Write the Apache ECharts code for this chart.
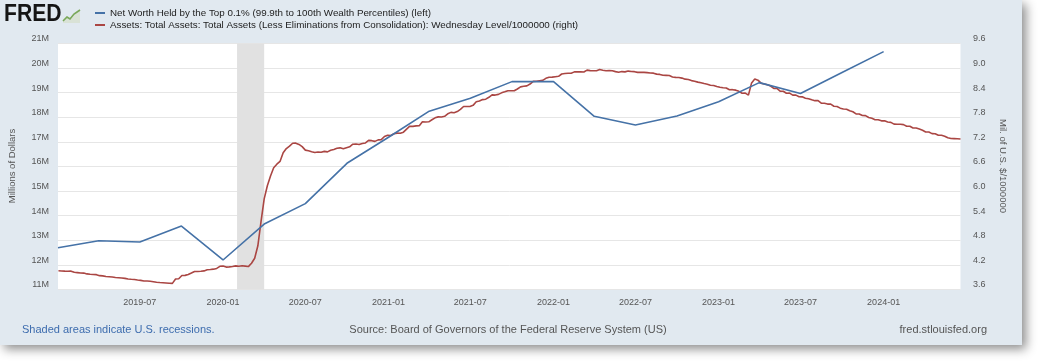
<!DOCTYPE html>
<html><head><meta charset="utf-8">
<script src="https://cdn.jsdelivr.net/npm/echarts@6/dist/echarts.min.js"></script>
<style>
html,body{margin:0;padding:0;background:#fff;width:1038px;height:361px;overflow:hidden}
#wrap{position:absolute;left:0;top:0;width:1022px;height:345px;background:#e1e9f0;box-shadow:4px 4px 10px rgba(0,0,0,0.45);}
#chart{width:1022px;height:345px}
</style></head><body><div id="wrap"><div id="chart"></div></div>
<script>
// ---- Data ----
const blueName = 'Net Worth Held by the Top 0.1% (99.9th to 100th Wealth Percentiles) (left)';
const redName = 'Assets: Total Assets: Total Assets (Less Eliminations from Consolidation): Wednesday Level/1000000 (right)';

const blueDates = ['2019-01-01','2019-04-01','2019-07-01','2019-10-01','2020-01-01','2020-04-01','2020-07-01','2020-10-01',
  '2021-01-01','2021-04-01','2021-07-01','2021-10-01','2022-01-01','2022-04-01','2022-07-01','2022-10-01',
  '2023-01-01','2023-04-01','2023-07-01','2023-10-01','2024-01-01'];
const blueValues = [12.70, 12.98, 12.93, 13.58, 12.20, 13.66, 14.49, 16.13,
  17.19, 18.25, 18.77, 19.45, 19.45, 18.04, 17.69, 18.05,
  18.63, 19.41, 18.97, 19.82, 20.67];

// weekly (Wednesday) values starting 2019-01-02
const redFirstWednesday = [2019, 0, 2];
const red2019 = [4.058,4.052,4.047,4.045,4.048, 4.020,4.012,4.002,4.000, 3.980,3.972,3.966,3.962,
  3.938,3.933,3.918,3.912, 3.905,3.892,3.888,3.880,3.872, 3.858,3.850,3.843,3.832,
  3.822,3.808,3.806,3.800,3.790, 3.778,3.770,3.766,3.760, 3.752,3.750,3.856,3.862,
  3.940,3.945,3.966,4.002,4.040, 4.040,4.046,4.054,4.080, 4.086,4.096,4.114,4.166];
const red2020 = [4.173,4.146,4.151,4.163,4.176, 4.168,4.179,4.171,4.159, 4.241,4.362,4.666,5.254,
  5.811,6.131,6.368,6.570,6.656, 6.723,6.934,7.037,7.097, 7.167,7.169,7.139,7.085,
  7.000,6.984,6.962,6.943,6.952, 6.949,6.969,6.957,6.996, 7.016,7.044,7.055,7.032,7.057,
  7.081,7.143,7.147,7.135, 7.163,7.175,7.237,7.230, 7.213,7.249,7.255,7.331,7.362];
const red2021 = [7.356,7.397,7.414,7.411, 7.438,7.513,7.583,7.578, 7.590,7.594,7.693,7.685,7.690,
  7.741,7.787,7.810,7.806, 7.824,7.886,7.920,7.912, 7.939,7.994,8.064,8.064,8.063,
  8.091,8.178,8.197,8.232, 8.242,8.288,8.346,8.342, 8.359,8.396,8.422,8.449,8.446,
  8.447,8.491,8.542,8.556, 8.567,8.611,8.676,8.679, 8.690,8.700,8.750,8.777,8.780];
const red2022 = [8.790,8.800,8.856,8.868, 8.874,8.876,8.908,8.907, 8.912,8.906,8.950,8.939,8.937,
  8.937,8.965,8.949,8.935, 8.938,8.937,8.914,8.900, 8.915,8.908,8.927,8.917,8.913,
  8.896,8.899,8.895,8.889, 8.879,8.877,8.853,8.846,8.826, 8.823,8.819,8.784,8.773,
  8.769,8.756,8.730,8.722, 8.695,8.681,8.658,8.642,8.623, 8.607,8.581,8.577,8.551];
const red2023 = [8.532,8.520,8.514,8.471, 8.474,8.462,8.433,8.386, 8.389,8.342,8.639,8.733,8.706,
  8.632,8.614,8.593,8.563, 8.503,8.503,8.436,8.436,8.386, 8.389,8.342,8.341,8.300,
  8.299,8.265,8.251,8.226, 8.206,8.207,8.146,8.144,8.122, 8.121,8.070,8.065,8.023,
  8.002,7.998,7.960,7.935, 7.884,7.880,7.844,7.842,7.795, 7.775,7.740,7.740,7.713];
const red2024 = [7.714,7.684,7.677,7.633,7.632, 7.629,7.622,7.583,7.581, 7.539,7.539,7.514,7.485,
  7.442,7.440,7.402,7.400, 7.362,7.361,7.338,7.300,7.284, 7.281,7.277,7.270];

const xTickLabels = ['2019-07','2020-01','2020-07','2021-01','2021-07','2022-01','2022-07','2023-01','2023-07','2024-01'];
const leftTickLabels = ['11M','12M','13M','14M','15M','16M','17M','18M','19M','20M','21M'];
const rightTickLabels = ['3.6','4.2','4.8','5.4','6.0','6.6','7.2','7.8','8.4','9.0','9.6'];
const recession = ['2020-02-01', '2020-04-01'];
const xRange = ['2019-01-01', '2024-06-19'];

// ---- Build ----
function ts(s){ const p = s.split('-').map(Number); return new Date(p[0], p[1]-1, p[2] || 1).getTime(); }
const redValues = [].concat(red2019, red2020, red2021, red2022, red2023, red2024);
const redData = redValues.map((v, i) => [new Date(redFirstWednesday[0], redFirstWednesday[1], redFirstWednesday[2] + 7*i).getTime(), v]);
const blueData = blueDates.map((d, i) => [ts(d), blueValues[i]]);
const tickTimes = xTickLabels.map(ts);

const FONT = '"Liberation Sans", Arial, sans-serif';
const chart = echarts.init(document.getElementById('chart'), null, {renderer: 'canvas'});
chart.setOption({
  animation: false,
  backgroundColor: '#e1e9f0',
  textStyle: {fontFamily: FONT},
  grid: {left: 58, right: 61.5, top: 43.5, bottom: 55.5, show: true, backgroundColor: '#ffffff', borderWidth: 0},
  legend: {
    orient: 'vertical', left: 95, top: 7.5, padding: 0, itemWidth: 10, itemHeight: 2, itemGap: 1,
    icon: 'rect', data: [blueName, redName],
    textStyle: {fontSize: 9.8, color: '#222', fontFamily: FONT, lineHeight: 11}
  },
  xAxis: {
    type: 'value', min: ts(xRange[0]), max: ts(xRange[1]),
    axisLine: {show: false}, axisTick: {show: false}, splitLine: {show: false},
    axisLabel: {
      customValues: tickTimes, fontSize: 9, color: '#555', margin: 8.5,
      formatter: function (v) { const i = tickTimes.indexOf(v); return i >= 0 ? xTickLabels[i] : ''; }
    }
  },
  yAxis: [
    {type: 'value', min: 11, max: 21, interval: 1, position: 'left',
     axisLine: {show: false}, axisTick: {show: false},
     splitLine: {lineStyle: {color: '#e6e6e6', width: 1}},
     axisLabel: {fontSize: 9, color: '#555', margin: 9, verticalAlign: 'bottom', lineHeight: 9,
       formatter: function (v) { return leftTickLabels[Math.round(v - 11)]; }}},
    {type: 'value', min: 3.6, max: 9.6, interval: 0.6, position: 'right',
     axisLine: {show: false}, axisTick: {show: false}, splitLine: {show: false},
     axisLabel: {fontSize: 9, color: '#555', margin: 12.5, verticalAlign: 'bottom', lineHeight: 9,
       formatter: function (v) { return rightTickLabels[Math.round((v - 3.6) / 0.6)]; }}}
  ],
  graphic: [
    {type: 'text', x: 4, y: 2, scaleX: 0.88,
     style: {text: 'FRED', fontSize: 24, fontWeight: 'bold', fontFamily: '"Liberation Sans", Arial', fill: '#151515', align: 'left', verticalAlign: 'top'}},
    {type: 'polygon', shape: {points: [[63,23],[63,19],[67,16],[70,18],[74,13],[80,9],[80,23]]}, style: {fill: '#d9e2d6'}},
    {type: 'polyline', shape: {points: [[63,21],[67,17],[70,19],[74,14],[80,10]]}, style: {stroke: '#79a85a', lineWidth: 1.6, fill: null}},
    {type: 'text', x: 12, y: 166, rotation: Math.PI/2,
     style: {text: 'Millions of Dollars', font: '9.5px ' + FONT, fill: '#555', align: 'center', verticalAlign: 'middle'}},
    {type: 'text', x: 1003, y: 166, rotation: -Math.PI/2,
     style: {text: 'Mil. of U.S. $/1000000', font: '9.5px ' + FONT, fill: '#555', align: 'center', verticalAlign: 'middle'}},
    {type: 'text', x: 22, y: 330,
     style: {text: 'Shaded areas indicate U.S. recessions.', font: '11px ' + FONT, fill: '#3d6cae', align: 'left', verticalAlign: 'middle'}},
    {type: 'text', x: 508, y: 330,
     style: {text: 'Source: Board of Governors of the Federal Reserve System (US)', font: '11px ' + FONT, fill: '#555', align: 'center', verticalAlign: 'middle'}},
    {type: 'text', x: 987, y: 330,
     style: {text: 'fred.stlouisfed.org', font: '11px ' + FONT, fill: '#555', align: 'right', verticalAlign: 'middle'}}
  ],
  series: [
    {name: 'recession', type: 'line', data: [], z: 1, silent: true,
     markArea: {silent: true, itemStyle: {color: '#e1e1e1'},
       data: [[{xAxis: ts(recession[0])}, {xAxis: ts(recession[1])}]]}},
    {name: blueName, type: 'line', yAxisIndex: 0, data: blueData, showSymbol: false, z: 3,
     lineStyle: {color: '#4572a7', width: 1.6}, itemStyle: {color: '#4572a7'}},
    {name: redName, type: 'line', yAxisIndex: 1, data: redData, showSymbol: false, z: 2,
     lineStyle: {color: '#aa4643', width: 1.6}, itemStyle: {color: '#aa4643'}}
  ]
});
</script></body></html>
